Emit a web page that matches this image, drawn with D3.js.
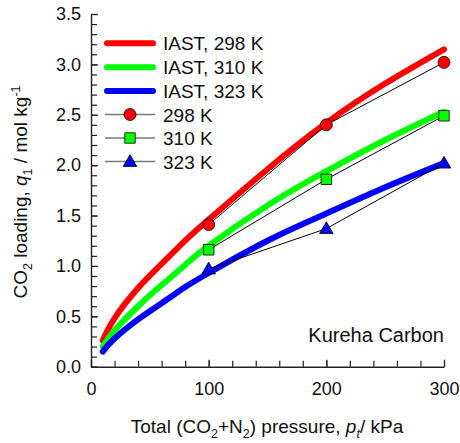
<!DOCTYPE html>
<html>
<head>
<meta charset="utf-8">
<script src="https://cdn.jsdelivr.net/npm/d3@7/dist/d3.min.js"></script>
<style>
  html, body { margin: 0; padding: 0; background: #fff; }
  svg { display: block; font-family: "Liberation Sans", Arial, Helvetica, sans-serif; }
</style>
</head>
<body>
<svg id="chart" width="460" height="443"></svg>
<script>
// IAST predictions (total pressure kPa -> CO2 loading mol/kg)
const iastPressure = [10, 20, 40, 60, 80, 100, 150, 200, 250, 300];
const iast298 = [0.26, 0.48, 0.78, 1.02, 1.25, 1.46, 1.96, 2.42, 2.81, 3.15];
const iast310 = [0.20, 0.36, 0.60, 0.81, 1.01, 1.20, 1.60, 1.94, 2.25, 2.53];
const iast323 = [0.15, 0.28, 0.47, 0.63, 0.79, 0.93, 1.25, 1.52, 1.78, 2.02];

// Experimental breakthrough data
const expPressure = [100, 200, 300];
const exp298 = [1.41, 2.40, 3.02];
const exp310 = [1.16, 1.86, 2.49];
const exp323 = [0.97, 1.37, 2.02];

const xTicks = [0, 100, 200, 300];
const yTicks = [0, 0.5, 1.0, 1.5, 2.0, 2.5, 3.0, 3.5];

const svg = d3.select("#chart");
const x = d3.scaleLinear().domain([0, 300]).range([91, 444]);
const y = d3.scaleLinear().domain([0, 3.5]).range([366.7, 14]);
const axisColor = "#222";

// Minor ticks
svg.append("g").attr("transform", `translate(${x(0)},0)`)
  .call(d3.axisLeft(y).tickValues(d3.range(0, 3.51, 0.1)).tickSize(-6).tickFormat(""))
  .call(g => g.select(".domain").remove())
  .call(g => g.selectAll("line").attr("stroke", axisColor).attr("stroke-width", 1.2));
svg.append("g").attr("transform", `translate(0,${y(0)})`)
  .call(d3.axisBottom(x).tickValues(d3.range(0, 301, 20)).tickSize(-6).tickFormat(""))
  .call(g => g.select(".domain").remove())
  .call(g => g.selectAll("line").attr("stroke", axisColor).attr("stroke-width", 1.2));

// Major axes
svg.append("g").attr("transform", `translate(${x(0)},0)`)
  .call(d3.axisLeft(y).tickValues(yTicks).tickSize(-7).tickSizeOuter(0).tickPadding(10).tickFormat(d3.format(".1f")))
  .call(g => g.select(".domain").attr("stroke", axisColor).attr("stroke-width", 1.4))
  .call(g => g.selectAll("line").attr("stroke", axisColor).attr("stroke-width", 1.2))
  .call(g => g.selectAll("text").attr("font-size", 18).attr("fill", "#111").attr("font-family", null));
svg.append("g").attr("transform", `translate(0,${y(0)})`)
  .call(d3.axisBottom(x).tickValues(xTicks).tickSize(-7).tickSizeOuter(0).tickPadding(16).tickFormat(d3.format("d")))
  .call(g => g.select(".domain").attr("stroke", axisColor).attr("stroke-width", 1.4))
  .call(g => g.selectAll("line").attr("stroke", axisColor).attr("stroke-width", 1.2))
  .call(g => g.selectAll("text").attr("font-size", 18).attr("fill", "#111").attr("font-family", null));

// Axis titles
const xt = svg.append("text").attr("x", 267).attr("y", 433).attr("text-anchor", "middle")
  .attr("font-size", 19).attr("fill", "#111");
xt.append("tspan").text("Total (CO");
xt.append("tspan").attr("font-size", 12.5).attr("dy", 5).text("2");
xt.append("tspan").attr("dy", -5).text("+N");
xt.append("tspan").attr("font-size", 12.5).attr("dy", 5).text("2");
xt.append("tspan").attr("dy", -5).text(") pressure, ");
xt.append("tspan").attr("font-style", "italic").text("p");
xt.append("tspan").attr("font-size", 12.5).attr("font-style", "italic").attr("dy", 5).text("t");
xt.append("tspan").attr("dy", -5).text("/ kPa");

const yt = svg.append("text").attr("transform", "translate(27,192) rotate(-90)")
  .attr("text-anchor", "middle").attr("font-size", 19).attr("fill", "#111");
yt.append("tspan").text("CO");
yt.append("tspan").attr("font-size", 12.5).attr("dy", 5).text("2");
yt.append("tspan").attr("dy", -5).text(" loading, ");
yt.append("tspan").attr("font-style", "italic").text("q");
yt.append("tspan").attr("font-size", 12.5).attr("dy", 5).text("1");
yt.append("tspan").attr("dy", -5).text(" / mol kg");
yt.append("tspan").attr("font-size", 12.5).attr("dy", -7).text("-1");

// IAST curves
const iastSeries = [
  { vals: iast298, color: "#ff0000", label: "IAST, 298 K" },
  { vals: iast310, color: "#00ff00", label: "IAST, 310 K" },
  { vals: iast323, color: "#0000ff", label: "IAST, 323 K" }
];
const line = d3.line().x(d => x(d[0])).y(d => y(d[1])).curve(d3.curveNatural);
iastSeries.forEach(s => {
  svg.append("path")
    .attr("d", line(iastPressure.map((p, i) => [p, s.vals[i]])))
    .attr("fill", "none").attr("stroke", s.color).attr("stroke-width", 6)
    .attr("stroke-linecap", "round").attr("stroke-linejoin", "round");
});

// Experimental points
const expSeries = [
  { vals: exp298, color: "#ff0000", shape: d3.symbolCircle, size: 113, label: "298 K" },
  { vals: exp310, color: "#00ff00", shape: d3.symbolSquare, size: 110, label: "310 K" },
  { vals: exp323, color: "#0000ff", shape: d3.symbolTriangle, size: 80, label: "323 K" }
];
const expLine = d3.line().x(d => x(d[0])).y(d => y(d[1]));
expSeries.forEach(s => {
  const pts = expPressure.map((p, i) => [p, s.vals[i]]);
  svg.append("path").attr("d", expLine(pts)).attr("fill", "none")
    .attr("stroke", "#000").attr("stroke-width", 1);
  svg.selectAll(null).data(pts).enter().append("path")
    .attr("d", d3.symbol().type(s.shape).size(s.size))
    .attr("transform", d => `translate(${x(d[0])},${y(d[1]) + (s.shape === d3.symbolTriangle ? 1 : 0)})`)
    .attr("fill", s.color).attr("stroke", "#000").attr("stroke-width", 0.8);
});

// Legend
const lgX1 = 107, lgX2 = 153, lgText = 163;
const lgY = [43.3, 67.3, 91, 114.5, 138, 161.5];
iastSeries.forEach((s, i) => {
  svg.append("line").attr("x1", lgX1).attr("x2", lgX2).attr("y1", lgY[i]).attr("y2", lgY[i])
    .attr("stroke", s.color).attr("stroke-width", 6).attr("stroke-linecap", "round");
  svg.append("text").attr("x", lgText).attr("y", lgY[i] + 7).attr("font-size", 19)
    .attr("fill", "#111").text(s.label);
});
expSeries.forEach((s, j) => {
  const yy = lgY[j + 3];
  svg.append("line").attr("x1", lgX1 - 2).attr("x2", lgX2 + 2).attr("y1", yy).attr("y2", yy)
    .attr("stroke", "#777").attr("stroke-width", 1.5);
  svg.append("path").attr("d", d3.symbol().type(s.shape).size(s.size))
    .attr("transform", `translate(130,${yy + (s.shape === d3.symbolTriangle ? 1 : 0)})`)
    .attr("fill", s.color).attr("stroke", "#000").attr("stroke-width", 0.8);
  svg.append("text").attr("x", lgText).attr("y", yy + 7).attr("font-size", 19)
    .attr("fill", "#111").text(s.label);
});

// Adsorbent label
svg.append("text").attr("x", 444).attr("y", 341.7).attr("text-anchor", "end")
  .attr("font-size", 20).attr("fill", "#111").text("Kureha Carbon");
</script>
</body>
</html>
